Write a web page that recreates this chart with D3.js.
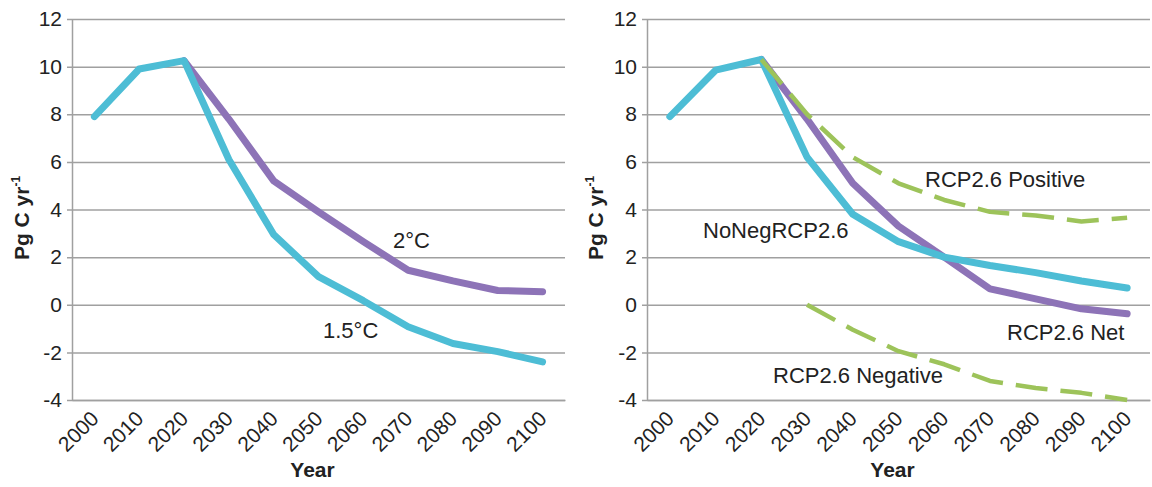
<!DOCTYPE html>
<html>
<head>
<meta charset="utf-8">
<script src="https://cdn.jsdelivr.net/npm/d3@7"></script>
<style>
  body { margin: 0; background: #fff; }
  text { font-family: "Liberation Sans", Arial, sans-serif; fill: #222; }
  .axis path, .axis line { stroke: #a0a0a0; stroke-width: 1.5; }
</style>
</head>
<body>
<div id="sandbox"></div>
<script>
var years = ['2000', '2010', '2020', '2030', '2040', '2050', '2060', '2070', '2080', '2090', '2100'];
var yTicks = [-4, -2, 0, 2, 4, 6, 8, 10, 12];

// left panel
var deg15 = [7.9, 9.9, 10.25, 6.1, 2.95, 1.18, 0.17, -0.92, -1.63, -1.97, -2.4];
var deg2 = [null, null, 10.25, 7.8, 5.2, 3.9, 2.65, 1.45, 1.0, 0.6, 0.55];

// right panel
var noNeg = [7.9, 9.85, 10.3, 6.2, 3.8, 2.65, 2.0, 1.65, 1.35, 1.0, 0.7];
var rcpNet = [null, null, 10.3, 7.8, 5.1, 3.3, 2.0, 0.67, 0.25, -0.17, -0.38];
var rcpPos = [null, null, 10.3, 8.0, 6.2, 5.1, 4.4, 3.9, 3.75, 3.5, 3.65];
var rcpNeg = [null, null, null, 0, -1.05, -1.95, -2.5, -3.2, -3.5, -3.7, -4.0];

var cyan = '#4dbdd5';
var purple = '#8d73b7';
var green = '#9dc35a';

var width = 1152;
var height = 487;

var svg = d3.select('#sandbox').append('svg')
    .attr('width', width)
    .attr('height', height);

svg.append('rect')
    .attr('width', width)
    .attr('height', height)
    .attr('fill', '#fff');

function panel(x0, x1, yLabelX, series, labels) {
    var x = d3.scalePoint().domain(years).range([x0, x1]).padding(0.5);
    var y = d3.scaleLinear().domain([-4, 12]).range([400, 19]);
    var w = x1 - x0;

    var g = svg.append('g');

    var yAxis = g.append('g')
        .attr('class', 'axis')
        .attr('transform', 'translate(' + x0 + ',0)')
        .call(d3.axisLeft(y)
            .tickValues(yTicks)
            .tickFormat(function(d) { return String(d); })  // plain hyphen, like the original
            .tickSizeInner(-w).tickSizeOuter(0).tickPadding(10));
    yAxis.selectAll('.tick line').attr('x1', -5);
    yAxis.selectAll('.tick text')
        .style('font-size', '21px')
        .attr('fill', '#222');

    var xAxis = g.append('g')
        .attr('class', 'axis')
        .attr('transform', 'translate(0,400)')
        .call(d3.axisBottom(x).tickSize(0));
    xAxis.selectAll('.tick text')
        .style('font-size', '21px')
        .attr('fill', '#222')
        .attr('text-anchor', 'end')
        .attr('dy', null)
        .attr('y', 0)
        .attr('transform', 'translate(5,20) rotate(-45)');

    series.forEach(function(s) {
        var pts = years.map(function(yr, i) { return { yr: yr, v: s.values[i] }; });
        var line = d3.line()
            .defined(function(d) { return d.v !== null; })
            .x(function(d) { return x(d.yr); })
            .y(function(d) { return y(d.v); });
        g.append('path')
            .datum(pts)
            .attr('d', line)
            .attr('fill', 'none')
            .attr('stroke', s.color)
            .attr('stroke-width', s.dash ? 4.5 : 7)
            .attr('stroke-linejoin', 'round')
            .attr('stroke-linecap', s.dash ? 'butt' : 'round')
            .attr('stroke-dasharray', s.dash ? '32,13' : null);
    });

    labels.forEach(function(l) {
        g.append('text')
            .attr('x', l.x)
            .attr('y', l.y)
            .style('font-size', '22px')
            .text(l.text);
    });

    var yl = g.append('text')
        .attr('transform', 'translate(' + yLabelX + ',218) rotate(-90)')
        .attr('text-anchor', 'middle')
        .style('font-size', '21px')
        .style('font-weight', 'bold');
    yl.append('tspan').text('Pg C yr');
    yl.append('tspan')
        .attr('dy', -9)
        .style('font-size', '12px')
        .text('-1');

    g.append('text')
        .attr('x', (x0 + x1) / 2 - 6)
        .attr('y', 477)
        .attr('text-anchor', 'middle')
        .style('font-size', '21px')
        .style('font-weight', 'bold')
        .text('Year');
}

panel(72, 565, 29, [
    { values: deg2, color: purple },
    { values: deg15, color: cyan }
], [
    { text: '2°C', x: 393, y: 248 },
    { text: '1.5°C', x: 323, y: 338 }
]);

panel(647, 1150, 603, [
    { values: rcpNet, color: purple },
    { values: noNeg, color: cyan },
    { values: rcpPos, color: green, dash: true },
    { values: rcpNeg, color: green, dash: true }
], [
    { text: 'RCP2.6 Positive', x: 925, y: 187 },
    { text: 'NoNegRCP2.6', x: 703, y: 238 },
    { text: 'RCP2.6 Net', x: 1007, y: 340 },
    { text: 'RCP2.6 Negative', x: 773, y: 383 }
]);
</script>
</body>
</html>
